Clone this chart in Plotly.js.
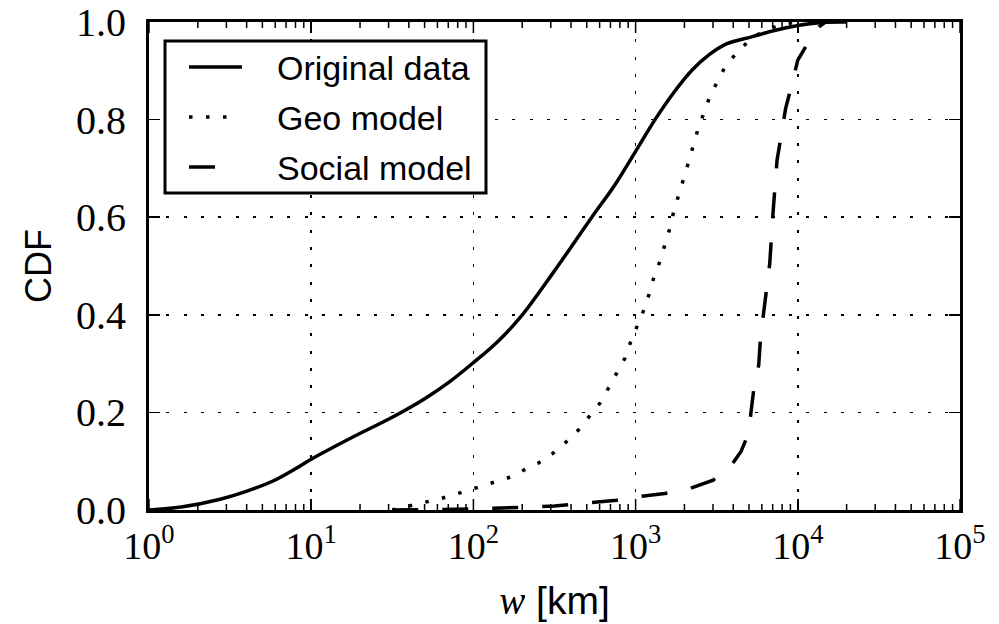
<!DOCTYPE html>
<html>
<head>
<meta charset="utf-8">
<script src="https://cdn.plot.ly/plotly-3.0.1.min.js"></script>
<style>html,body{margin:0;padding:0;background:#fff;}#chart{width:999px;height:624px;}</style>
</head>
<body>
<div id="chart"></div>
<script>
// distance w [km] and CDF values
const origW   = [1, 1.58, 2.75, 3.98, 5.86, 7.94, 10, 18.2, 31.6, 50.1, 70.8, 100, 141, 195, 316, 537, 741, 1000, 1318, 1698, 2239, 2818, 3631, 5248, 7079, 10000, 14125, 19953];
const origCDF = [0, 0.006, 0.022, 0.038, 0.060, 0.084, 0.104, 0.15, 0.19, 0.228, 0.262, 0.302, 0.345, 0.395, 0.49, 0.60, 0.665, 0.735, 0.80, 0.853, 0.902, 0.932, 0.955, 0.97, 0.982, 0.993, 0.999, 1.0];

const geoW   = [31.6, 44.7, 63.8, 80.5, 102, 130, 164, 202, 251, 309, 372, 444, 518, 603, 678, 764, 859, 931, 1023, 1125, 1213, 1297, 1413, 1514, 1626, 1722, 1858, 1982, 2109, 2265, 2432, 2642, 2864, 3199, 3581, 4188, 4932, 6026, 7943, 10000];
const geoCDF = [0, 0.012, 0.024, 0.034, 0.045, 0.055, 0.066, 0.081, 0.096, 0.116, 0.139, 0.164, 0.191, 0.219, 0.249, 0.279, 0.311, 0.344, 0.378, 0.41, 0.443, 0.477, 0.51, 0.543, 0.577, 0.613, 0.647, 0.68, 0.71, 0.748, 0.782, 0.814, 0.847, 0.878, 0.91, 0.936, 0.96, 0.98, 0.995, 1.0];

const socialW   = [31.6, 100, 316, 764, 1014, 1514, 2158, 3006, 3899, 4467, 4775, 5105, 5346, 5741, 5888, 6166, 6457, 6714, 7031, 7447, 7943, 8414, 9333, 10000, 11220, 12300, 13500, 14800];
const socialCDF = [0, 0.002, 0.008, 0.02, 0.027, 0.034, 0.044, 0.061, 0.092, 0.12, 0.143, 0.191, 0.246, 0.297, 0.352, 0.403, 0.458, 0.505, 0.608, 0.717, 0.772, 0.823, 0.881, 0.922, 0.95, 0.97, 0.99, 1.0];

const seriesNames = ['Original data', 'Geo model', 'Social model'];
const xTickVals = [1, 10, 100, 1000, 10000, 100000];
const xTickText = ['10<sup>0</sup>', '10<sup>1</sup>', '10<sup>2</sup>', '10<sup>3</sup>', '10<sup>4</sup>', '10<sup>5</sup>'];
const yTickVals = [0, 0.2, 0.4, 0.6, 0.8, 1.0];
const yTickText = ['0.0', '0.2', '0.4', '0.6', '0.8', '1.0'];
// minor log ticks 2..9 in each decade
const xMinorVals = [];
for (let d = 1; d < 100000; d *= 10) { for (let k = 2; k <= 9; k++) xMinorVals.push(k * d); }

// plot area in pixels: x 149..960, y 22..510
const PL = 149, PW = 811, PB = 510, PH = 488;
const px = v => (v - PL) / PW;
const py = v => (PB - v) / PH;

const solidStyle = {color: '#000', width: 3.5};
const geoStyle = {color: '#000', width: 3.5, dash: '3.5px,13.5px'};
const socialStyle = {color: '#000', width: 3.5, dash: '26px,24px'};

// inward tick marks on the bottom and top frame, built as one segment trace
const tickX = [], tickY = [];
function addTicks(vals, lenPx) {
  const h = lenPx / PH;
  vals.forEach(v => {
    tickX.push(v, v, null, v, v, null);
    tickY.push(0, h, null, 1, 1 - h, null);
  });
}
addTicks(xMinorVals, 6);
addTicks(xTickVals, 11);

const traces = [
  {x: tickX, y: tickY, mode: 'lines', showlegend: false, hoverinfo: 'skip', cliponaxis: false,
   line: {color: '#000', width: 1.5}},
  {x: origW, y: origCDF, name: seriesNames[0], mode: 'lines', showlegend: false,
   line: Object.assign({shape: 'spline', smoothing: 1}, solidStyle)},
  {x: geoW, y: geoCDF, name: seriesNames[1], mode: 'lines', showlegend: false, line: geoStyle},
  {x: socialW, y: socialCDF, name: seriesNames[2], mode: 'lines', showlegend: false, line: socialStyle}
];

const serif = 'Liberation Serif, DejaVu Serif, serif';
const sans = 'Liberation Sans, Arial, sans-serif';

// legend box drawn by hand to match the reference proportions
const shapes = [];
const legendRows = [67, 117, 167];
const legendStyles = [solidStyle, geoStyle, socialStyle];
const legendLineEnds = [242, 232, 218];
shapes.push({type: 'rect', xref: 'paper', yref: 'paper', x0: px(165), x1: px(486), y0: py(193), y1: py(41),
   line: {color: '#000', width: 3}, fillcolor: '#fff', layer: 'above'});
const annotations = [];
legendRows.forEach((r, i) => {
  shapes.push({type: 'line', xref: 'paper', yref: 'paper', x0: px(189), x1: px(legendLineEnds[i]),
    y0: py(r), y1: py(r), line: legendStyles[i], layer: 'above'});
  annotations.push({xref: 'paper', yref: 'paper', x: px(275), y: py(r + 1), xanchor: 'left', yanchor: 'middle',
    text: seriesNames[i], showarrow: false, font: {family: sans, size: 34, color: '#000'}});
});

const layout = {
  width: 999, height: 624,
  margin: {l: PL, r: 999 - PL - PW, t: PB - PH, b: 624 - PB, pad: 0},
  paper_bgcolor: '#fff', plot_bgcolor: '#fff',
  showlegend: false,
  shapes: shapes,
  annotations: annotations,
  xaxis: {
    type: 'log', range: [0, 5],
    tickvals: xTickVals, ticktext: xTickText,
    ticks: 'inside', ticklen: 11, tickwidth: 1.5, tickcolor: '#000',
    showline: true, linecolor: '#000', linewidth: 3, mirror: 'allticks',
    showgrid: true, gridcolor: '#000', gridwidth: 1.5, griddash: '3px,14.3px',
    zeroline: false,
    tickfont: {family: serif, size: 38, color: '#000'},
    ticklabelstandoff: 0,
    title: {text: '<i style="font-family:Liberation Serif">w</i> [km]', font: {family: sans, size: 39, color: '#000'}, standoff: 22}
  },
  yaxis: {
    range: [0, 1],
    tickvals: yTickVals, ticktext: yTickText,
    ticks: 'inside', ticklen: 11, tickwidth: 1.5, tickcolor: '#000',
    showline: true, linecolor: '#000', linewidth: 3, mirror: 'allticks',
    showgrid: true, gridcolor: '#000', gridwidth: 1.5, griddash: '3px,14.3px',
    zeroline: false,
    tickfont: {family: serif, size: 40, color: '#000'},
    ticklabelstandoff: 12,
    title: {text: 'CDF', font: {family: sans, size: 36, color: '#000'}, standoff: 14}
  }
};

Plotly.newPlot('chart', traces, layout, {displayModeBar: false, staticPlot: true});
</script>
</body>
</html>
